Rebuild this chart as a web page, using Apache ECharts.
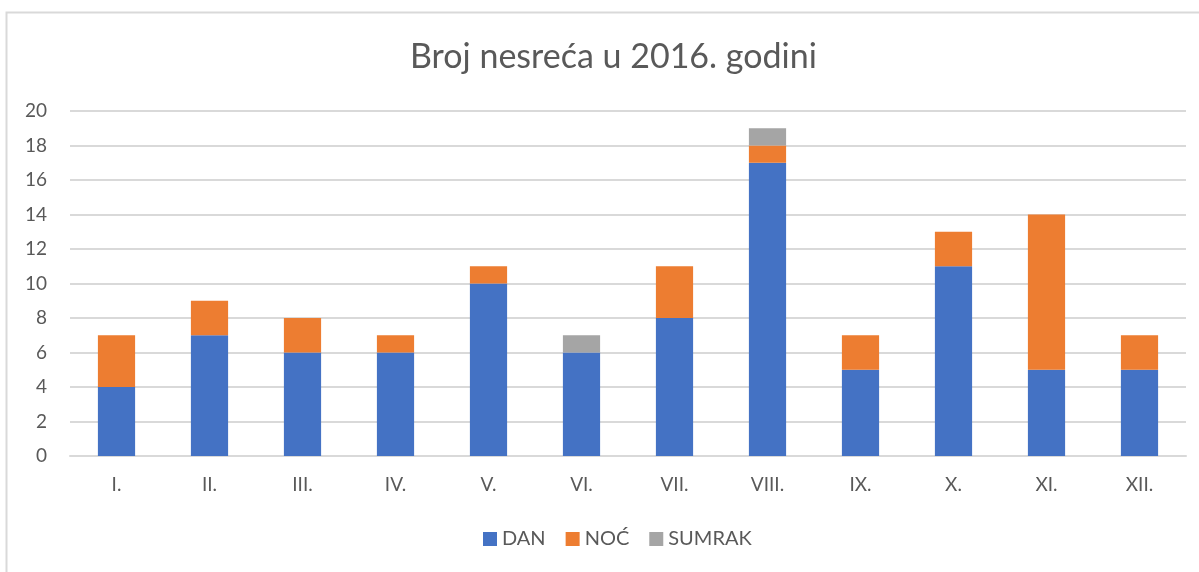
<!DOCTYPE html>
<html><head><meta charset="utf-8">
<script src="https://cdn.jsdelivr.net/npm/echarts@6/dist/echarts.min.js"></script>
<style>html,body{margin:0;padding:0;background:#fff}#c{width:1199px;height:572px}</style>
</head><body><div id="c"></div>
<script>
const categories = ['I.','II.','III.','IV.','V.','VI.','VII.','VIII.','IX.','X.','XI.','XII.'];
const dan = [4,7,6,6,10,6,8,17,5,11,5,5];
const noc = [3,2,2,1,1,0,3,1,2,2,9,2];
const sumrak = [0,0,0,0,0,1,0,1,0,0,0,0];
const FONT = 'Lato, "Open Sans", sans-serif';
const TXT = '#595959';
const chart = echarts.init(document.getElementById('c'));
const mk = (name, data, color) => ({name, type:'bar', stack:'t', data, barWidth:'40%', itemStyle:{color}, emphasis:{disabled:true}});
chart.setOption({
  animation:false,
  textStyle:{fontFamily:FONT},
  title:{text:'Broj nesreća u 2016. godini', left:405, top:35, textStyle:{fontFamily:FONT, fontSize:34, fontWeight:400, color:TXT}},
  graphic:[{type:'rect', shape:{x:6.5,y:12.5,width:1220,height:600}, style:{fill:'none', stroke:'#d9d9d9', lineWidth:2}, silent:true, z:-1}],
  grid:{left:70, right:13, top:111, bottom:116},
  legend:{bottom:18, left:478, itemWidth:14, itemHeight:14, itemGap:20, icon:'rect', textStyle:{fontFamily:FONT, fontSize:20, color:TXT}, data:['DAN','NOĆ','SUMRAK']},
  xAxis:{type:'category', data:categories, axisTick:{show:false}, axisLine:{lineStyle:{color:'#d9d9d9', width:2}}, axisLabel:{color:TXT, fontSize:19, margin:19, fontFamily:FONT}},
  yAxis:{type:'value', min:0, max:20, interval:2, axisLine:{show:false}, axisTick:{show:false}, splitLine:{lineStyle:{color:'#d9d9d9', width:2}}, axisLabel:{color:TXT, fontSize:19, margin:23, fontFamily:FONT}},
  series:[mk('DAN',dan,'#4472c4'), mk('NOĆ',noc,'#ed7d31'), mk('SUMRAK',sumrak,'#a5a5a5')]
});
</script></body></html>
